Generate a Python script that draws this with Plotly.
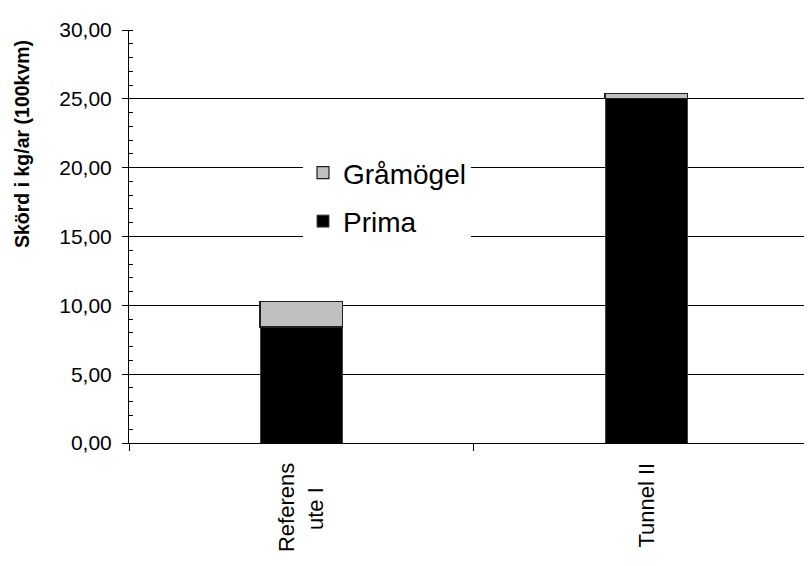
import plotly.graph_objects as go

categories = ["Referens<br>ute I\u00a0\u00a0\u00a0\u00a0", "Tunnel II"]
prima = [8.42, 25.0]
gramogel = [1.88, 0.40]
y_ticks = [0, 5, 10, 15, 20, 25, 30]

FONT = "Liberation Sans, Arial, sans-serif"

fig = go.Figure()
fig.add_trace(go.Bar(
    x=categories, y=prima, name="Prima", legendrank=2, legendgroup="prima",
    marker=dict(color="#000000", line=dict(color="#404040", width=1)),
    width=0.24,
))
fig.add_trace(go.Bar(
    x=categories, y=gramogel, name="Gråmögel", legendrank=1, legendgroup="gram",
    marker=dict(color="#c0c0c0", line=dict(color="#202020", width=1.2)),
    width=0.24,
))

fig.update_layout(
    barmode="stack",
    width=804, height=558,
    margin=dict(l=121, r=0, t=22, b=123),
    paper_bgcolor="white", plot_bgcolor="white",
    separators=", ",
    font=dict(family=FONT, color="black"),
    showlegend=True,
    legend=dict(
        x=(303 - 129) / 683, y=(443 - 148) / 413, xanchor="left", yanchor="top",
        bgcolor="white", borderwidth=0,
        font=dict(size=28, family=FONT, color="black"),
        traceorder="grouped", tracegroupgap=9,
    ),
    xaxis=dict(
        range=[-0.5, 1.48],
        tickson="boundaries", ticks="outside", ticklen=7, tickcolor="black",
        showline=True, linecolor="black", linewidth=1,
        tickangle=-90, tickfont=dict(size=22, family=FONT, color="black"),
        ticklabelstandoff=10,
        showgrid=False, zeroline=False,
    ),
    yaxis=dict(
        range=[0, 30], tickvals=y_ticks, tickformat=".2f",
        ticks="outside", ticklen=6, tickcolor="black",
        showline=True, linecolor="black", linewidth=1,
        showgrid=True, gridcolor="black", gridwidth=1,
        zeroline=False,
        tickfont=dict(size=21, family=FONT, color="black"),
        ticklabelstandoff=6,
        minor=dict(dtick=1, ticks="inside", ticklen=4, tickcolor="black", showgrid=False),
    ),
    annotations=[dict(
        text="<b>Skörd i kg/ar (100kvm)</b>",
        xref="paper", yref="paper",
        x=(22 - 129) / 683, y=(443 - 144) / 413,
        xanchor="center", yanchor="middle",
        textangle=-90, showarrow=False,
        font=dict(size=19.5, family=FONT, color="black"),
    )],
)

fig.write_html("out.html")
